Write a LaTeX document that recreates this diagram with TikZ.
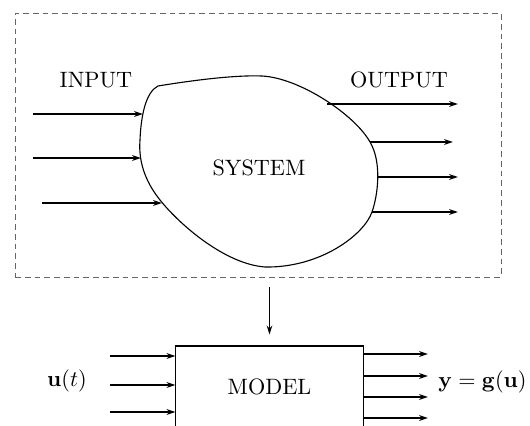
\documentclass[tikz,border=0pt]{standalone}
\usepackage{tikz}
\usetikzlibrary{arrows.meta,positioning}
\tikzset{frame/.style={
    draw=black!60,
    dash pattern=on 2.6pt off 1.8pt,
    line width=0.4pt,
    minimum width=218.7pt,
    minimum height=118.8pt,
}}
\tikzset{block/.style={
    draw,
    line width=0.5pt,
    minimum width=84.2pt,
    minimum height=36.9pt,
}}
\tikzset{tag/.style={
    inner sep=0pt,
}}
\tikzset{arrow/.style={
    -{Stealth[length=4pt,width=2.6pt]},
    line width=0.6pt,
}}

\begin{document}
\begin{tikzpicture}[x=0.45pt,y=-0.45pt]
    \useasboundingbox (0,0) rectangle (530,426);
    \clip (0,0) rectangle (530,426);

    \node[frame] (frame) at (258,145) {};
    \node[tag] (input) at (96,80) {INPUT};
    \node[tag] (output) at (399,80) {OUTPUT};

    % system blob
    \draw[line width=0.5pt] (158,86) .. controls (195,80) and (235,75) .. (262,76)
        .. controls (300,78) and (355,115) .. (370,142)
        .. controls (382,162) and (378,195) .. (372,212)
        .. controls (364,235) and (320,268) .. (265,267)
        .. controls (225,264) and (180,225) .. (160,200)
        .. controls (148,185) and (138,165) .. (140,140)
        .. controls (141,115) and (146,92) .. cycle;
    \node[tag] (system) at (259,168) {SYSTEM};

    \coordinate (in1) at (143,114);
    \coordinate (in2) at (141,158);
    \coordinate (in3) at (162,203);
    \coordinate (src1) at (33,114);
    \coordinate (src2) at (33,158);
    \coordinate (src3) at (42,203);
    \draw[arrow] (src1) -- (in1);
    \draw[arrow] (src2) -- (in2);
    \draw[arrow] (src3) -- (in3);

    \coordinate (out1) at (327,104);
    \coordinate (out2) at (370,142);
    \coordinate (out3) at (378,177);
    \coordinate (out4) at (372,212);
    \coordinate (dst1) at (458,104);
    \coordinate (dst2) at (453,142);
    \coordinate (dst3) at (458,177);
    \coordinate (dst4) at (458,212);
    \draw[arrow] (out1) -- (dst1);
    \draw[arrow] (out2) -- (dst2);
    \draw[arrow] (out3) -- (dst3);
    \draw[arrow] (out4) -- (dst4);

    % model
    \node[block] (model) at (269.5,387) {MODEL};
    \draw[arrow, shorten <=4.5pt, shorten >=5pt] (frame.south -| model.north) -- (model.north);

    \node[tag] (u) at (67,381) {$\mathbf{u}(t)$};
    \foreach \y [count=\i] in {356,385,412} {
        \coordinate (u\i) at (110,\y);
        \draw[arrow] (u\i) -- (u\i -| model.west);
    }
    \node[tag, anchor=west] (y) at (438,382) {$\mathbf{y}=\mathbf{g}(\mathbf{u})$};
    \foreach \y [count=\i] in {354,376,397,418} {
        \coordinate (y\i) at (428,\y);
        \draw[arrow] (y\i -| model.east) -- (y\i);
    }
\end{tikzpicture}
\end{document}
